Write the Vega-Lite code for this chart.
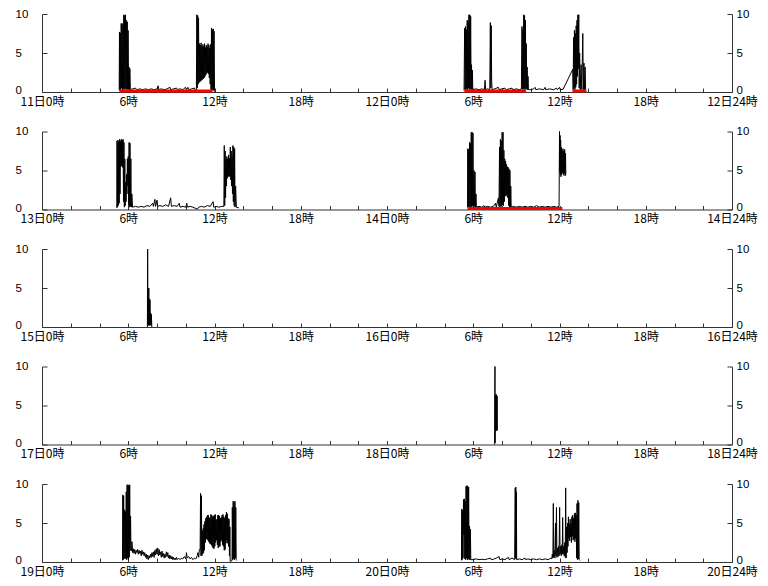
{
"$schema": "https://vega.github.io/schema/vega-lite/v6.json",
"background": "white",
"padding": {"left": 15, "top": 8, "right": 5, "bottom": 5},
"spacing": 39.5,
"bounds": "flush",
"config": {"view": {"stroke": null}, "font": "Noto Sans CJK JP",
  "axis": {"grid": false, "title": null, "domainColor": "#333", "tickColor": "#333", "labelColor": "#000", "labelFont": "Noto Sans CJK JP", "labelFontSize": 12},
  "axisY": {"labelFontSize": 11.5, "labelFont": "Liberation Sans"}},
"datasets": {
"r": [
{"p":1,"t":5.38,"t2":11.87},{"p":1,"t":29.38,"t2":33.67},{"p":1,"t":36.9,"t2":37.8},
{"p":2,"t":29.6,"t2":36.2}
],
"w": [
{"p":1,"s":1,"t":5.37,"v":0.3},{"p":1,"s":1,"t":5.39,"v":7.7},{"p":1,"s":1,"t":5.42,"v":0.2},{"p":1,"s":1,"t":5.45,"v":7.6},{"p":1,"s":1,"t":5.48,"v":0.3},{"p":1,"s":1,"t":5.51,"v":8.8},{"p":1,"s":1,"t":5.54,"v":0.5},{"p":1,"s":1,"t":5.57,"v":8.6},{"p":1,"s":1,"t":5.60,"v":0.2},{"p":1,"s":1,"t":5.63,"v":8.8},{"p":1,"s":1,"t":5.66,"v":0.4},{"p":1,"s":1,"t":5.69,"v":9.9},{"p":1,"s":1,"t":5.72,"v":0.3},{"p":1,"s":1,"t":5.75,"v":9.8},{"p":1,"s":1,"t":5.78,"v":0.5},{"p":1,"s":1,"t":5.81,"v":9.9},{"p":1,"s":1,"t":5.84,"v":0.3},{"p":1,"s":1,"t":5.87,"v":9.2},{"p":1,"s":1,"t":5.90,"v":0.4},{"p":1,"s":1,"t":5.93,"v":9.0},{"p":1,"s":1,"t":5.96,"v":0.3},{"p":1,"s":1,"t":5.99,"v":7.9},{"p":1,"s":1,"t":6.02,"v":0.4},{"p":1,"s":1,"t":6.05,"v":3.2},{"p":1,"s":1,"t":6.08,"v":0.3},{"p":1,"s":1,"t":6.11,"v":3.0},{"p":1,"s":1,"t":6.15,"v":0.3},
{"p":1,"s":1,"t":6.3,"v":0.4},{"p":1,"s":1,"t":6.5,"v":0.5},{"p":1,"s":1,"t":6.6,"v":0.3},{"p":1,"s":1,"t":6.8,"v":0.4},{"p":1,"s":1,"t":7.0,"v":0.3},{"p":1,"s":1,"t":7.2,"v":0.4},{"p":1,"s":1,"t":7.4,"v":0.3},{"p":1,"s":1,"t":7.6,"v":0.4},{"p":1,"s":1,"t":7.8,"v":0.3},{"p":1,"s":1,"t":8.0,"v":0.4},{"p":1,"s":1,"t":8.08,"v":0.8},{"p":1,"s":1,"t":8.12,"v":0.3},{"p":1,"s":1,"t":8.3,"v":0.4},{"p":1,"s":1,"t":8.5,"v":0.3},{"p":1,"s":1,"t":8.7,"v":0.4},{"p":1,"s":1,"t":8.9,"v":0.6},{"p":1,"s":1,"t":8.95,"v":0.3},{"p":1,"s":1,"t":9.15,"v":0.4},{"p":1,"s":1,"t":9.37,"v":0.5},{"p":1,"s":1,"t":9.42,"v":0.3},{"p":1,"s":1,"t":9.6,"v":0.4},{"p":1,"s":1,"t":9.8,"v":0.3},{"p":1,"s":1,"t":9.98,"v":0.6},{"p":1,"s":1,"t":10.05,"v":0.3},{"p":1,"s":1,"t":10.15,"v":0.6},{"p":1,"s":1,"t":10.2,"v":0.3},{"p":1,"s":1,"t":10.4,"v":0.4},{"p":1,"s":1,"t":10.6,"v":0.5},{"p":1,"s":1,"t":10.65,"v":0.3},
{"p":1,"s":1,"t":10.74,"v":0.3},{"p":1,"s":1,"t":10.77,"v":9.9},{"p":1,"s":1,"t":10.80,"v":0.5},{"p":1,"s":1,"t":10.83,"v":9.8},{"p":1,"s":1,"t":10.86,"v":1.0},{"p":1,"s":1,"t":10.89,"v":9.5},{"p":1,"s":1,"t":10.92,"v":1.2},{"p":1,"s":1,"t":10.95,"v":6.2},{"p":1,"s":1,"t":10.98,"v":1.3},{"p":1,"s":1,"t":11.01,"v":6.0},{"p":1,"s":1,"t":11.04,"v":1.4},{"p":1,"s":1,"t":11.07,"v":6.3},{"p":1,"s":1,"t":11.10,"v":1.5},{"p":1,"s":1,"t":11.13,"v":5.8},{"p":1,"s":1,"t":11.16,"v":1.6},{"p":1,"s":1,"t":11.19,"v":6.1},{"p":1,"s":1,"t":11.22,"v":1.7},{"p":1,"s":1,"t":11.25,"v":5.9},{"p":1,"s":1,"t":11.28,"v":1.8},{"p":1,"s":1,"t":11.31,"v":6.2},{"p":1,"s":1,"t":11.34,"v":2.0},{"p":1,"s":1,"t":11.37,"v":5.7},{"p":1,"s":1,"t":11.40,"v":2.2},{"p":1,"s":1,"t":11.43,"v":6.0},{"p":1,"s":1,"t":11.46,"v":2.4},{"p":1,"s":1,"t":11.49,"v":5.8},{"p":1,"s":1,"t":11.52,"v":2.5},{"p":1,"s":1,"t":11.55,"v":6.2},{"p":1,"s":1,"t":11.58,"v":2.3},{"p":1,"s":1,"t":11.61,"v":6.0},{"p":1,"s":1,"t":11.64,"v":1.8},{"p":1,"s":1,"t":11.67,"v":5.6},{"p":1,"s":1,"t":11.70,"v":1.0},{"p":1,"s":1,"t":11.73,"v":6.1},{"p":1,"s":1,"t":11.76,"v":0.3},{"p":1,"s":1,"t":11.79,"v":8.2},{"p":1,"s":1,"t":11.82,"v":0.2},{"p":1,"s":1,"t":11.85,"v":8.0},{"p":1,"s":1,"t":11.88,"v":0.3},{"p":1,"s":1,"t":11.91,"v":8.1},{"p":1,"s":1,"t":11.94,"v":0.2},{"p":1,"s":1,"t":11.97,"v":7.8},{"p":1,"s":1,"t":12.00,"v":0.2},{"p":1,"s":1,"t":12.03,"v":0},
{"p":1,"s":2,"t":29.36,"v":0.2},{"p":1,"s":2,"t":29.40,"v":8.2},{"p":1,"s":2,"t":29.43,"v":0.3},{"p":1,"s":2,"t":29.46,"v":8.4},{"p":1,"s":2,"t":29.49,"v":0.3},{"p":1,"s":2,"t":29.52,"v":8.0},{"p":1,"s":2,"t":29.55,"v":0.4},{"p":1,"s":2,"t":29.58,"v":9.2},{"p":1,"s":2,"t":29.61,"v":0.3},{"p":1,"s":2,"t":29.64,"v":9.1},{"p":1,"s":2,"t":29.67,"v":0.5},{"p":1,"s":2,"t":29.70,"v":9.9},{"p":1,"s":2,"t":29.73,"v":0.3},{"p":1,"s":2,"t":29.76,"v":9.9},{"p":1,"s":2,"t":29.79,"v":0.4},{"p":1,"s":2,"t":29.82,"v":9.7},{"p":1,"s":2,"t":29.85,"v":0.3},{"p":1,"s":2,"t":29.88,"v":3.5},{"p":1,"s":2,"t":29.91,"v":0.3},{"p":1,"s":2,"t":29.94,"v":2.8},{"p":1,"s":2,"t":29.97,"v":0.3},
{"p":1,"s":2,"t":30.2,"v":0.4},{"p":1,"s":2,"t":30.4,"v":0.3},{"p":1,"s":2,"t":30.6,"v":0.4},{"p":1,"s":2,"t":30.78,"v":0.3},{"p":1,"s":2,"t":30.82,"v":1.5},{"p":1,"s":2,"t":30.86,"v":0.3},{"p":1,"s":2,"t":31.0,"v":0.4},{"p":1,"s":2,"t":31.15,"v":0.3},{"p":1,"s":2,"t":31.19,"v":8.9},{"p":1,"s":2,"t":31.22,"v":0.5},{"p":1,"s":2,"t":31.25,"v":8.5},{"p":1,"s":2,"t":31.28,"v":1.5},{"p":1,"s":2,"t":31.31,"v":0.3},{"p":1,"s":2,"t":31.5,"v":0.4},{"p":1,"s":2,"t":31.75,"v":0.6},{"p":1,"s":2,"t":31.8,"v":0.3},{"p":1,"s":2,"t":32.0,"v":0.4},{"p":1,"s":2,"t":32.2,"v":0.5},{"p":1,"s":2,"t":32.3,"v":0.3},{"p":1,"s":2,"t":32.5,"v":0.4},{"p":1,"s":2,"t":32.7,"v":0.5},{"p":1,"s":2,"t":32.75,"v":0.3},{"p":1,"s":2,"t":33.0,"v":0.4},{"p":1,"s":2,"t":33.2,"v":0.3},{"p":1,"s":2,"t":33.35,"v":0.4},
{"p":1,"s":2,"t":33.39,"v":8.4},{"p":1,"s":2,"t":33.42,"v":0.3},{"p":1,"s":2,"t":33.45,"v":8.0},{"p":1,"s":2,"t":33.48,"v":0.4},{"p":1,"s":2,"t":33.51,"v":9.9},{"p":1,"s":2,"t":33.54,"v":0.3},{"p":1,"s":2,"t":33.57,"v":9.8},{"p":1,"s":2,"t":33.60,"v":0.5},{"p":1,"s":2,"t":33.63,"v":9.2},{"p":1,"s":2,"t":33.66,"v":0.3},{"p":1,"s":2,"t":33.69,"v":6.2},{"p":1,"s":2,"t":33.72,"v":0.4},{"p":1,"s":2,"t":33.75,"v":3.2},{"p":1,"s":2,"t":33.78,"v":0.3},{"p":1,"s":2,"t":33.81,"v":2.0},{"p":1,"s":2,"t":33.84,"v":0.3},
{"p":1,"s":2,"t":34.0,"v":0.3},{"p":1,"s":2,"t":34.2,"v":0.4},{"p":1,"s":2,"t":34.3,"v":0.6},{"p":1,"s":2,"t":34.35,"v":0.3},{"p":1,"s":2,"t":34.6,"v":0.4},{"p":1,"s":2,"t":34.9,"v":0.3},{"p":1,"s":2,"t":35.0,"v":0.6},{"p":1,"s":2,"t":35.05,"v":0.3},{"p":1,"s":2,"t":35.3,"v":0.4},{"p":1,"s":2,"t":35.6,"v":0.3},{"p":1,"s":2,"t":35.8,"v":0.5},{"p":1,"s":2,"t":35.85,"v":0.3},{"p":1,"s":2,"t":36.0,"v":0.6},{"p":1,"s":2,"t":36.05,"v":0.3},{"p":1,"s":2,"t":36.25,"v":0.35},
{"p":1,"s":2,"t":36.92,"v":2.9},{"p":1,"s":2,"t":36.95,"v":0.3},{"p":1,"s":2,"t":36.98,"v":7.0},{"p":1,"s":2,"t":37.01,"v":0.5},{"p":1,"s":2,"t":37.04,"v":7.9},{"p":1,"s":2,"t":37.07,"v":0.3},{"p":1,"s":2,"t":37.10,"v":7.5},{"p":1,"s":2,"t":37.13,"v":0.6},{"p":1,"s":2,"t":37.16,"v":8.5},{"p":1,"s":2,"t":37.19,"v":1.0},{"p":1,"s":2,"t":37.22,"v":9.2},{"p":1,"s":2,"t":37.25,"v":2.0},{"p":1,"s":2,"t":37.28,"v":9.9},{"p":1,"s":2,"t":37.31,"v":3.0},{"p":1,"s":2,"t":37.34,"v":9.9},{"p":1,"s":2,"t":37.37,"v":0.5},{"p":1,"s":2,"t":37.40,"v":5.0},{"p":1,"s":2,"t":37.44,"v":0.3},{"p":1,"s":2,"t":37.50,"v":3.5},{"p":1,"s":2,"t":37.55,"v":0.3},{"p":1,"s":2,"t":37.62,"v":7.5},{"p":1,"s":2,"t":37.66,"v":0.3},{"p":1,"s":2,"t":37.70,"v":3.7},{"p":1,"s":2,"t":37.74,"v":0.3},{"p":1,"s":2,"t":37.78,"v":3.2},{"p":1,"s":2,"t":37.82,"v":0.3},{"p":1,"s":2,"t":37.85,"v":0},

{"p":2,"s":1,"t":5.20,"v":0.2},{"p":2,"s":1,"t":5.22,"v":8.8},{"p":2,"s":1,"t":5.25,"v":0.3},{"p":2,"s":1,"t":5.28,"v":8.9},{"p":2,"s":1,"t":5.31,"v":0.5},{"p":2,"s":1,"t":5.34,"v":8.7},{"p":2,"s":1,"t":5.37,"v":0.8},{"p":2,"s":1,"t":5.40,"v":9.0},{"p":2,"s":1,"t":5.43,"v":2.0},{"p":2,"s":1,"t":5.46,"v":8.8},{"p":2,"s":1,"t":5.49,"v":5.5},{"p":2,"s":1,"t":5.52,"v":9.0},{"p":2,"s":1,"t":5.55,"v":5.6},{"p":2,"s":1,"t":5.58,"v":8.9},{"p":2,"s":1,"t":5.61,"v":5.4},{"p":2,"s":1,"t":5.64,"v":9.0},{"p":2,"s":1,"t":5.67,"v":1.0},{"p":2,"s":1,"t":5.70,"v":8.6},{"p":2,"s":1,"t":5.73,"v":0.3},{"p":2,"s":1,"t":5.76,"v":6.5},{"p":2,"s":1,"t":5.79,"v":0.5},{"p":2,"s":1,"t":5.82,"v":3.5},{"p":2,"s":1,"t":5.85,"v":1.0},{"p":2,"s":1,"t":5.88,"v":4.5},{"p":2,"s":1,"t":5.91,"v":2.0},{"p":2,"s":1,"t":5.94,"v":6.5},{"p":2,"s":1,"t":5.97,"v":3.0},{"p":2,"s":1,"t":6.00,"v":6.8},{"p":2,"s":1,"t":6.03,"v":0.5},{"p":2,"s":1,"t":6.06,"v":8.6},{"p":2,"s":1,"t":6.09,"v":0.3},{"p":2,"s":1,"t":6.12,"v":8.5},{"p":2,"s":1,"t":6.15,"v":0.4},{"p":2,"s":1,"t":6.18,"v":6.5},{"p":2,"s":1,"t":6.21,"v":0.3},{"p":2,"s":1,"t":6.25,"v":2.0},{"p":2,"s":1,"t":6.30,"v":0.3},
{"p":2,"s":1,"t":6.5,"v":0.4},{"p":2,"s":1,"t":6.7,"v":0.3},{"p":2,"s":1,"t":6.9,"v":0.4},{"p":2,"s":1,"t":7.1,"v":0.3},{"p":2,"s":1,"t":7.3,"v":0.5},{"p":2,"s":1,"t":7.5,"v":0.4},{"p":2,"s":1,"t":7.7,"v":0.8},{"p":2,"s":1,"t":7.75,"v":0.4},{"p":2,"s":1,"t":7.85,"v":1.3},{"p":2,"s":1,"t":7.9,"v":0.4},{"p":2,"s":1,"t":8.0,"v":1.2},{"p":2,"s":1,"t":8.05,"v":0.4},{"p":2,"s":1,"t":8.2,"v":0.5},{"p":2,"s":1,"t":8.4,"v":0.4},{"p":2,"s":1,"t":8.6,"v":0.6},{"p":2,"s":1,"t":8.8,"v":0.4},{"p":2,"s":1,"t":8.95,"v":1.5},{"p":2,"s":1,"t":9.0,"v":0.4},{"p":2,"s":1,"t":9.2,"v":0.5},{"p":2,"s":1,"t":9.4,"v":0.4},{"p":2,"s":1,"t":9.55,"v":0.8},{"p":2,"s":1,"t":9.6,"v":0.3},{"p":2,"s":1,"t":9.8,"v":0.4},{"p":2,"s":1,"t":10.0,"v":0.3},{"p":2,"s":1,"t":10.07,"v":0.8},{"p":2,"s":1,"t":10.12,"v":0.3},{"p":2,"s":1,"t":10.3,"v":0.4},{"p":2,"s":1,"t":10.5,"v":0.3},{"p":2,"s":1,"t":10.8,"v":0.05},{"p":2,"s":1,"t":10.9,"v":0.3},{"p":2,"s":1,"t":11.1,"v":0.4},{"p":2,"s":1,"t":11.3,"v":0.3},{"p":2,"s":1,"t":11.5,"v":0.5},{"p":2,"s":1,"t":11.7,"v":0.4},{"p":2,"s":1,"t":11.9,"v":1.0},{"p":2,"s":1,"t":11.95,"v":0.3},{"p":2,"s":1,"t":12.1,"v":0.4},{"p":2,"s":1,"t":12.3,"v":0.3},{"p":2,"s":1,"t":12.5,"v":0.4},{"p":2,"s":1,"t":12.65,"v":0.4},
{"p":2,"s":1,"t":12.68,"v":8.2},{"p":2,"s":1,"t":12.71,"v":0.5},{"p":2,"s":1,"t":12.74,"v":7.5},{"p":2,"s":1,"t":12.77,"v":1.5},{"p":2,"s":1,"t":12.80,"v":6.5},{"p":2,"s":1,"t":12.83,"v":3.0},{"p":2,"s":1,"t":12.86,"v":6.8},{"p":2,"s":1,"t":12.89,"v":4.0},{"p":2,"s":1,"t":12.92,"v":6.5},{"p":2,"s":1,"t":12.95,"v":4.2},{"p":2,"s":1,"t":12.98,"v":7.0},{"p":2,"s":1,"t":13.01,"v":4.3},{"p":2,"s":1,"t":13.04,"v":6.6},{"p":2,"s":1,"t":13.07,"v":4.2},{"p":2,"s":1,"t":13.10,"v":8.0},{"p":2,"s":1,"t":13.13,"v":3.8},{"p":2,"s":1,"t":13.16,"v":7.5},{"p":2,"s":1,"t":13.19,"v":3.0},{"p":2,"s":1,"t":13.22,"v":6.8},{"p":2,"s":1,"t":13.25,"v":2.0},{"p":2,"s":1,"t":13.28,"v":8.2},{"p":2,"s":1,"t":13.31,"v":1.0},{"p":2,"s":1,"t":13.34,"v":8.0},{"p":2,"s":1,"t":13.37,"v":0.5},{"p":2,"s":1,"t":13.40,"v":7.8},{"p":2,"s":1,"t":13.43,"v":0.3},{"p":2,"s":1,"t":13.47,"v":3.0},{"p":2,"s":1,"t":13.52,"v":0.3},{"p":2,"s":1,"t":13.7,"v":0.2},
{"p":2,"s":2,"t":29.60,"v":0.3},{"p":2,"s":2,"t":29.62,"v":7.8},{"p":2,"s":2,"t":29.65,"v":0.3},{"p":2,"s":2,"t":29.68,"v":7.7},{"p":2,"s":2,"t":29.71,"v":0.4},{"p":2,"s":2,"t":29.74,"v":8.6},{"p":2,"s":2,"t":29.77,"v":0.3},{"p":2,"s":2,"t":29.80,"v":8.5},{"p":2,"s":2,"t":29.83,"v":0.4},{"p":2,"s":2,"t":29.86,"v":9.9},{"p":2,"s":2,"t":29.89,"v":0.3},{"p":2,"s":2,"t":29.92,"v":9.9},{"p":2,"s":2,"t":29.95,"v":0.5},{"p":2,"s":2,"t":29.98,"v":9.8},{"p":2,"s":2,"t":30.01,"v":0.3},{"p":2,"s":2,"t":30.05,"v":5.0},{"p":2,"s":2,"t":30.08,"v":0.4},{"p":2,"s":2,"t":30.12,"v":4.8},{"p":2,"s":2,"t":30.15,"v":0.3},{"p":2,"s":2,"t":30.19,"v":2.0},{"p":2,"s":2,"t":30.22,"v":0.3},
{"p":2,"s":2,"t":30.4,"v":0.4},{"p":2,"s":2,"t":30.6,"v":0.3},{"p":2,"s":2,"t":30.75,"v":0.5},{"p":2,"s":2,"t":30.8,"v":0.3},{"p":2,"s":2,"t":31.0,"v":0.4},{"p":2,"s":2,"t":31.2,"v":0.3},{"p":2,"s":2,"t":31.4,"v":0.4},{"p":2,"s":2,"t":31.55,"v":0.8},{"p":2,"s":2,"t":31.6,"v":0.3},{"p":2,"s":2,"t":31.75,"v":1.5},{"p":2,"s":2,"t":31.79,"v":0.4},
{"p":2,"s":2,"t":31.83,"v":8.0},{"p":2,"s":2,"t":31.86,"v":0.3},{"p":2,"s":2,"t":31.89,"v":9.0},{"p":2,"s":2,"t":31.92,"v":0.5},{"p":2,"s":2,"t":31.95,"v":8.8},{"p":2,"s":2,"t":31.98,"v":0.4},{"p":2,"s":2,"t":32.01,"v":9.9},{"p":2,"s":2,"t":32.04,"v":0.6},{"p":2,"s":2,"t":32.07,"v":9.9},{"p":2,"s":2,"t":32.10,"v":0.5},{"p":2,"s":2,"t":32.13,"v":7.6},{"p":2,"s":2,"t":32.16,"v":1.0},{"p":2,"s":2,"t":32.19,"v":6.5},{"p":2,"s":2,"t":32.22,"v":1.8},{"p":2,"s":2,"t":32.25,"v":6.2},{"p":2,"s":2,"t":32.28,"v":1.7},{"p":2,"s":2,"t":32.31,"v":5.8},{"p":2,"s":2,"t":32.34,"v":1.9},{"p":2,"s":2,"t":32.37,"v":5.5},{"p":2,"s":2,"t":32.40,"v":1.5},{"p":2,"s":2,"t":32.43,"v":5.4},{"p":2,"s":2,"t":32.46,"v":0.5},{"p":2,"s":2,"t":32.49,"v":5.2},{"p":2,"s":2,"t":32.52,"v":0.3},{"p":2,"s":2,"t":32.55,"v":5.0},{"p":2,"s":2,"t":32.58,"v":0.3},{"p":2,"s":2,"t":32.61,"v":3.0},{"p":2,"s":2,"t":32.64,"v":0.3},
{"p":2,"s":2,"t":32.8,"v":0.4},{"p":2,"s":2,"t":33.0,"v":0.3},{"p":2,"s":2,"t":33.2,"v":0.4},{"p":2,"s":2,"t":33.4,"v":0.3},{"p":2,"s":2,"t":33.6,"v":0.4},{"p":2,"s":2,"t":33.8,"v":0.3},{"p":2,"s":2,"t":34.0,"v":0.4},{"p":2,"s":2,"t":34.2,"v":0.3},{"p":2,"s":2,"t":34.4,"v":0.5},{"p":2,"s":2,"t":34.6,"v":0.3},{"p":2,"s":2,"t":34.8,"v":0.4},{"p":2,"s":2,"t":35.0,"v":0.3},{"p":2,"s":2,"t":35.2,"v":0.4},{"p":2,"s":2,"t":35.4,"v":0.3},{"p":2,"s":2,"t":35.6,"v":0.4},{"p":2,"s":2,"t":35.8,"v":0.3},{"p":2,"s":2,"t":35.97,"v":0.4},
{"p":2,"s":2,"t":36.00,"v":10.0},{"p":2,"s":2,"t":36.02,"v":4.8},{"p":2,"s":2,"t":36.04,"v":9.5},{"p":2,"s":2,"t":36.06,"v":4.5},{"p":2,"s":2,"t":36.08,"v":8.9},{"p":2,"s":2,"t":36.10,"v":4.2},{"p":2,"s":2,"t":36.12,"v":8.0},{"p":2,"s":2,"t":36.15,"v":4.5},{"p":2,"s":2,"t":36.18,"v":7.6},{"p":2,"s":2,"t":36.21,"v":4.7},{"p":2,"s":2,"t":36.24,"v":7.8},{"p":2,"s":2,"t":36.27,"v":4.4},{"p":2,"s":2,"t":36.30,"v":7.5},{"p":2,"s":2,"t":36.33,"v":4.6},{"p":2,"s":2,"t":36.36,"v":7.7},{"p":2,"s":2,"t":36.39,"v":4.3},{"p":2,"s":2,"t":36.42,"v":7.2},{"p":2,"s":2,"t":36.44,"v":4.5},

{"p":3,"s":1,"t":7.33,"v":0},{"p":3,"s":1,"t":7.35,"v":10},{"p":3,"s":1,"t":7.37,"v":0.3},{"p":3,"s":1,"t":7.39,"v":3.7},{"p":3,"s":1,"t":7.41,"v":0.2},{"p":3,"s":1,"t":7.43,"v":5.0},{"p":3,"s":1,"t":7.45,"v":0.3},{"p":3,"s":1,"t":7.47,"v":3.6},{"p":3,"s":1,"t":7.49,"v":0.2},{"p":3,"s":1,"t":7.51,"v":3.5},{"p":3,"s":1,"t":7.53,"v":0.3},{"p":3,"s":1,"t":7.56,"v":1.8},{"p":3,"s":1,"t":7.58,"v":0.2},{"p":3,"s":1,"t":7.61,"v":1.6},{"p":3,"s":1,"t":7.64,"v":0},

{"p":4,"s":1,"t":31.49,"v":0},{"p":4,"s":1,"t":31.51,"v":10},{"p":4,"s":1,"t":31.52,"v":0.2},{"p":4,"s":1,"t":31.54,"v":6.4},{"p":4,"s":1,"t":31.56,"v":1.8},{"p":4,"s":1,"t":31.58,"v":6.3},{"p":4,"s":1,"t":31.60,"v":1.8},{"p":4,"s":1,"t":31.62,"v":6.4},{"p":4,"s":1,"t":31.64,"v":1.8},{"p":4,"s":1,"t":31.66,"v":6.2},{"p":4,"s":1,"t":31.67,"v":1.8},

{"p":5,"s":1,"t":5.60,"v":0.2},{"p":5,"s":1,"t":5.62,"v":8.6},{"p":5,"s":1,"t":5.65,"v":0.3},{"p":5,"s":1,"t":5.68,"v":8.5},{"p":5,"s":1,"t":5.71,"v":0.5},{"p":5,"s":1,"t":5.74,"v":6.7},{"p":5,"s":1,"t":5.77,"v":0.4},{"p":5,"s":1,"t":5.80,"v":6.5},{"p":5,"s":1,"t":5.83,"v":0.5},{"p":5,"s":1,"t":5.86,"v":9.0},{"p":5,"s":1,"t":5.89,"v":0.3},{"p":5,"s":1,"t":5.92,"v":9.9},{"p":5,"s":1,"t":5.95,"v":0.5},{"p":5,"s":1,"t":5.98,"v":9.9},{"p":5,"s":1,"t":6.01,"v":0.3},{"p":5,"s":1,"t":6.04,"v":9.8},{"p":5,"s":1,"t":6.07,"v":0.6},{"p":5,"s":1,"t":6.10,"v":9.9},{"p":5,"s":1,"t":6.13,"v":1.5},{"p":5,"s":1,"t":6.16,"v":5.9},{"p":5,"s":1,"t":6.19,"v":1.5},
{"p":5,"s":1,"t":6.22,"v":1.4},{"p":5,"s":1,"t":6.26,"v":2.6},{"p":5,"s":1,"t":6.30,"v":1.2},{"p":5,"s":1,"t":6.35,"v":1.7},{"p":5,"s":1,"t":6.40,"v":1.1},{"p":5,"s":1,"t":6.45,"v":1.6},{"p":5,"s":1,"t":6.50,"v":1.0},{"p":5,"s":1,"t":6.55,"v":1.5},{"p":5,"s":1,"t":6.60,"v":1.2},{"p":5,"s":1,"t":6.65,"v":1.6},{"p":5,"s":1,"t":6.70,"v":1.0},{"p":5,"s":1,"t":6.75,"v":1.5},{"p":5,"s":1,"t":6.80,"v":1.1},{"p":5,"s":1,"t":6.85,"v":1.4},{"p":5,"s":1,"t":6.90,"v":0.8},{"p":5,"s":1,"t":6.95,"v":1.5},{"p":5,"s":1,"t":7.00,"v":1.0},{"p":5,"s":1,"t":7.05,"v":1.3},{"p":5,"s":1,"t":7.10,"v":0.8},{"p":5,"s":1,"t":7.15,"v":1.2},{"p":5,"s":1,"t":7.20,"v":0.6},{"p":5,"s":1,"t":7.25,"v":1.0},{"p":5,"s":1,"t":7.30,"v":0.4},{"p":5,"s":1,"t":7.35,"v":0.9},{"p":5,"s":1,"t":7.40,"v":0.3},{"p":5,"s":1,"t":7.45,"v":0.8},{"p":5,"s":1,"t":7.50,"v":0.5},{"p":5,"s":1,"t":7.55,"v":1.0},{"p":5,"s":1,"t":7.60,"v":0.6},{"p":5,"s":1,"t":7.65,"v":1.2},{"p":5,"s":1,"t":7.70,"v":0.7},{"p":5,"s":1,"t":7.75,"v":1.3},{"p":5,"s":1,"t":7.80,"v":0.6},{"p":5,"s":1,"t":7.85,"v":1.5},{"p":5,"s":1,"t":7.90,"v":0.9},{"p":5,"s":1,"t":7.95,"v":1.7},{"p":5,"s":1,"t":8.00,"v":1.0},{"p":5,"s":1,"t":8.05,"v":1.8},{"p":5,"s":1,"t":8.10,"v":0.8},{"p":5,"s":1,"t":8.15,"v":1.6},{"p":5,"s":1,"t":8.20,"v":0.9},{"p":5,"s":1,"t":8.25,"v":1.3},{"p":5,"s":1,"t":8.30,"v":0.6},{"p":5,"s":1,"t":8.35,"v":1.4},{"p":5,"s":1,"t":8.40,"v":0.7},{"p":5,"s":1,"t":8.45,"v":1.1},{"p":5,"s":1,"t":8.50,"v":0.5},{"p":5,"s":1,"t":8.55,"v":1.0},{"p":5,"s":1,"t":8.60,"v":0.6},{"p":5,"s":1,"t":8.65,"v":1.3},{"p":5,"s":1,"t":8.70,"v":0.7},{"p":5,"s":1,"t":8.75,"v":1.2},{"p":5,"s":1,"t":8.80,"v":0.5},{"p":5,"s":1,"t":8.85,"v":0.9},{"p":5,"s":1,"t":8.90,"v":0.4},{"p":5,"s":1,"t":8.95,"v":0.8},{"p":5,"s":1,"t":9.00,"v":0.4},{"p":5,"s":1,"t":9.05,"v":0.7},{"p":5,"s":1,"t":9.10,"v":0.3},{"p":5,"s":1,"t":9.15,"v":0.6},{"p":5,"s":1,"t":9.20,"v":0.3},{"p":5,"s":1,"t":9.25,"v":0.5},{"p":5,"s":1,"t":9.30,"v":0.3},{"p":5,"s":1,"t":9.35,"v":0.6},{"p":5,"s":1,"t":9.40,"v":0.3},{"p":5,"s":1,"t":9.50,"v":0.5},{"p":5,"s":1,"t":9.60,"v":0.3},{"p":5,"s":1,"t":9.70,"v":0.5},{"p":5,"s":1,"t":9.80,"v":0.4},{"p":5,"s":1,"t":9.90,"v":0.7},{"p":5,"s":1,"t":10.0,"v":0.4},{"p":5,"s":1,"t":10.05,"v":1.2},{"p":5,"s":1,"t":10.10,"v":0.5},{"p":5,"s":1,"t":10.20,"v":0.7},{"p":5,"s":1,"t":10.30,"v":0.4},{"p":5,"s":1,"t":10.40,"v":0.6},{"p":5,"s":1,"t":10.50,"v":0.3},{"p":5,"s":1,"t":10.60,"v":0.5},{"p":5,"s":1,"t":10.70,"v":0.4},{"p":5,"s":1,"t":10.80,"v":0.8},{"p":5,"s":1,"t":10.85,"v":1.2},{"p":5,"s":1,"t":10.90,"v":0.6},{"p":5,"s":1,"t":10.95,"v":1.6},
{"p":5,"s":1,"t":11.00,"v":1.6},{"p":5,"s":1,"t":11.03,"v":8.8},{"p":5,"s":1,"t":11.06,"v":0.8},{"p":5,"s":1,"t":11.09,"v":8.5},{"p":5,"s":1,"t":11.12,"v":0.8},{"p":5,"s":1,"t":11.15,"v":4.0},{"p":5,"s":1,"t":11.18,"v":1.0},{"p":5,"s":1,"t":11.21,"v":4.3},{"p":5,"s":1,"t":11.24,"v":1.2},{"p":5,"s":1,"t":11.27,"v":4.8},{"p":5,"s":1,"t":11.30,"v":1.5},{"p":5,"s":1,"t":11.33,"v":5.2},{"p":5,"s":1,"t":11.36,"v":2.5},{"p":5,"s":1,"t":11.39,"v":5.6},{"p":5,"s":1,"t":11.42,"v":3.0},{"p":5,"s":1,"t":11.45,"v":5.8},{"p":5,"s":1,"t":11.48,"v":2.9},{"p":5,"s":1,"t":11.51,"v":6.0},{"p":5,"s":1,"t":11.54,"v":2.8},{"p":5,"s":1,"t":11.57,"v":6.0},{"p":5,"s":1,"t":11.60,"v":2.6},{"p":5,"s":1,"t":11.63,"v":5.7},{"p":5,"s":1,"t":11.66,"v":2.4},{"p":5,"s":1,"t":11.69,"v":5.6},{"p":5,"s":1,"t":11.72,"v":2.3},{"p":5,"s":1,"t":11.75,"v":6.1},{"p":5,"s":1,"t":11.78,"v":2.2},{"p":5,"s":1,"t":11.81,"v":6.0},{"p":5,"s":1,"t":11.84,"v":2.0},{"p":5,"s":1,"t":11.87,"v":5.8},{"p":5,"s":1,"t":11.90,"v":1.8},{"p":5,"s":1,"t":11.93,"v":5.9},{"p":5,"s":1,"t":11.96,"v":1.7},{"p":5,"s":1,"t":11.99,"v":6.0},{"p":5,"s":1,"t":12.02,"v":2.0},{"p":5,"s":1,"t":12.05,"v":6.1},{"p":5,"s":1,"t":12.08,"v":2.5},{"p":5,"s":1,"t":12.11,"v":5.4},{"p":5,"s":1,"t":12.14,"v":2.8},{"p":5,"s":1,"t":12.17,"v":5.5},{"p":5,"s":1,"t":12.20,"v":2.2},{"p":5,"s":1,"t":12.23,"v":6.0},{"p":5,"s":1,"t":12.26,"v":1.8},{"p":5,"s":1,"t":12.29,"v":6.0},{"p":5,"s":1,"t":12.32,"v":2.0},{"p":5,"s":1,"t":12.35,"v":5.9},{"p":5,"s":1,"t":12.38,"v":2.0},{"p":5,"s":1,"t":12.41,"v":5.6},{"p":5,"s":1,"t":12.44,"v":2.6},{"p":5,"s":1,"t":12.47,"v":5.7},{"p":5,"s":1,"t":12.50,"v":2.8},{"p":5,"s":1,"t":12.53,"v":6.0},{"p":5,"s":1,"t":12.56,"v":2.2},{"p":5,"s":1,"t":12.59,"v":6.1},{"p":5,"s":1,"t":12.62,"v":2.0},{"p":5,"s":1,"t":12.65,"v":5.8},{"p":5,"s":1,"t":12.68,"v":1.5},{"p":5,"s":1,"t":12.71,"v":5.6},{"p":5,"s":1,"t":12.74,"v":1.6},{"p":5,"s":1,"t":12.77,"v":6.0},{"p":5,"s":1,"t":12.80,"v":2.4},{"p":5,"s":1,"t":12.83,"v":6.4},{"p":5,"s":1,"t":12.86,"v":2.8},{"p":5,"s":1,"t":12.89,"v":6.2},{"p":5,"s":1,"t":12.92,"v":2.4},{"p":5,"s":1,"t":12.95,"v":5.6},{"p":5,"s":1,"t":12.98,"v":2.0},{"p":5,"s":1,"t":13.01,"v":5.5},{"p":5,"s":1,"t":13.04,"v":0.8},{"p":5,"s":1,"t":13.07,"v":4.5},{"p":5,"s":1,"t":13.09,"v":0.1},
{"p":5,"s":1,"t":13.15,"v":0.1},{"p":5,"s":1,"t":13.22,"v":0.2},{"p":5,"s":1,"t":13.24,"v":7.0},{"p":5,"s":1,"t":13.27,"v":0.3},{"p":5,"s":1,"t":13.30,"v":7.8},{"p":5,"s":1,"t":13.33,"v":0.4},{"p":5,"s":1,"t":13.36,"v":7.6},{"p":5,"s":1,"t":13.39,"v":0.3},{"p":5,"s":1,"t":13.42,"v":7.8},{"p":5,"s":1,"t":13.45,"v":0.5},{"p":5,"s":1,"t":13.48,"v":7.0},{"p":5,"s":1,"t":13.51,"v":0.3},{"p":5,"s":1,"t":13.55,"v":0.2},
{"p":5,"s":2,"t":29.18,"v":0.2},{"p":5,"s":2,"t":29.20,"v":6.8},{"p":5,"s":2,"t":29.23,"v":0.3},{"p":5,"s":2,"t":29.26,"v":6.6},{"p":5,"s":2,"t":29.29,"v":0.5},{"p":5,"s":2,"t":29.32,"v":8.0},{"p":5,"s":2,"t":29.35,"v":3.5},{"p":5,"s":2,"t":29.38,"v":8.1},{"p":5,"s":2,"t":29.41,"v":0.4},{"p":5,"s":2,"t":29.44,"v":7.8},{"p":5,"s":2,"t":29.47,"v":0.3},{"p":5,"s":2,"t":29.50,"v":9.7},{"p":5,"s":2,"t":29.53,"v":0.5},{"p":5,"s":2,"t":29.56,"v":9.8},{"p":5,"s":2,"t":29.59,"v":0.3},{"p":5,"s":2,"t":29.62,"v":9.7},{"p":5,"s":2,"t":29.65,"v":0.4},{"p":5,"s":2,"t":29.68,"v":9.6},{"p":5,"s":2,"t":29.71,"v":0.3},{"p":5,"s":2,"t":29.74,"v":4.6},{"p":5,"s":2,"t":29.77,"v":0.3},{"p":5,"s":2,"t":29.80,"v":4.2},{"p":5,"s":2,"t":29.83,"v":0.3},
{"p":5,"s":2,"t":30.0,"v":0.3},{"p":5,"s":2,"t":30.2,"v":0.4},{"p":5,"s":2,"t":30.4,"v":0.3},{"p":5,"s":2,"t":30.6,"v":0.35},{"p":5,"s":2,"t":30.8,"v":0.3},{"p":5,"s":2,"t":31.0,"v":0.4},{"p":5,"s":2,"t":31.2,"v":0.5},{"p":5,"s":2,"t":31.25,"v":0.3},{"p":5,"s":2,"t":31.4,"v":0.35},{"p":5,"s":2,"t":31.6,"v":0.5},{"p":5,"s":2,"t":31.8,"v":0.7},{"p":5,"s":2,"t":31.85,"v":0.3},{"p":5,"s":2,"t":32.0,"v":0.4},{"p":5,"s":2,"t":32.2,"v":0.3},{"p":5,"s":2,"t":32.45,"v":0.6},{"p":5,"s":2,"t":32.5,"v":0.3},{"p":5,"s":2,"t":32.7,"v":0.5},{"p":5,"s":2,"t":32.88,"v":0.3},
{"p":5,"s":2,"t":32.92,"v":9.5},{"p":5,"s":2,"t":32.94,"v":0.5},{"p":5,"s":2,"t":32.96,"v":9.6},{"p":5,"s":2,"t":32.98,"v":0.4},{"p":5,"s":2,"t":33.00,"v":9.0},{"p":5,"s":2,"t":33.02,"v":0.3},
{"p":5,"s":2,"t":33.2,"v":0.4},{"p":5,"s":2,"t":33.4,"v":0.3},{"p":5,"s":2,"t":33.6,"v":0.5},{"p":5,"s":2,"t":33.65,"v":0.3},{"p":5,"s":2,"t":33.8,"v":0.4},{"p":5,"s":2,"t":34.0,"v":0.3},{"p":5,"s":2,"t":34.2,"v":0.4},{"p":5,"s":2,"t":34.4,"v":0.3},{"p":5,"s":2,"t":34.6,"v":0.4},{"p":5,"s":2,"t":34.8,"v":0.3},{"p":5,"s":2,"t":35.0,"v":0.4},{"p":5,"s":2,"t":35.2,"v":0.3},{"p":5,"s":2,"t":35.4,"v":0.5},
{"p":5,"s":2,"t":35.46,"v":0.4},{"p":5,"s":2,"t":35.50,"v":1.0},{"p":5,"s":2,"t":35.54,"v":0.5},{"p":5,"s":2,"t":35.57,"v":7.5},{"p":5,"s":2,"t":35.60,"v":0.6},{"p":5,"s":2,"t":35.64,"v":1.5},{"p":5,"s":2,"t":35.68,"v":0.5},{"p":5,"s":2,"t":35.72,"v":5.0},{"p":5,"s":2,"t":35.75,"v":0.8},{"p":5,"s":2,"t":35.79,"v":7.0},{"p":5,"s":2,"t":35.82,"v":0.6},{"p":5,"s":2,"t":35.86,"v":1.8},{"p":5,"s":2,"t":35.90,"v":0.7},{"p":5,"s":2,"t":35.94,"v":2.0},{"p":5,"s":2,"t":35.97,"v":0.8},{"p":5,"s":2,"t":36.01,"v":7.0},{"p":5,"s":2,"t":36.04,"v":1.0},{"p":5,"s":2,"t":36.08,"v":2.0},{"p":5,"s":2,"t":36.12,"v":0.8},{"p":5,"s":2,"t":36.16,"v":2.2},{"p":5,"s":2,"t":36.19,"v":1.0},{"p":5,"s":2,"t":36.22,"v":5.7},{"p":5,"s":2,"t":36.25,"v":1.0},{"p":5,"s":2,"t":36.29,"v":2.0},{"p":5,"s":2,"t":36.33,"v":0.8},{"p":5,"s":2,"t":36.37,"v":2.5},{"p":5,"s":2,"t":36.40,"v":0.6},{"p":5,"s":2,"t":36.43,"v":9.5},{"p":5,"s":2,"t":36.46,"v":0.5},{"p":5,"s":2,"t":36.50,"v":4.5},{"p":5,"s":2,"t":36.53,"v":1.2},{"p":5,"s":2,"t":36.56,"v":5.0},{"p":5,"s":2,"t":36.59,"v":2.0},{"p":5,"s":2,"t":36.62,"v":5.8},{"p":5,"s":2,"t":36.65,"v":3.0},{"p":5,"s":2,"t":36.68,"v":4.9},{"p":5,"s":2,"t":36.71,"v":2.7},{"p":5,"s":2,"t":36.74,"v":5.5},{"p":5,"s":2,"t":36.77,"v":3.2},{"p":5,"s":2,"t":36.80,"v":5.0},{"p":5,"s":2,"t":36.83,"v":2.5},{"p":5,"s":2,"t":36.86,"v":5.8},{"p":5,"s":2,"t":36.89,"v":3.3},{"p":5,"s":2,"t":36.92,"v":6.0},{"p":5,"s":2,"t":36.95,"v":2.8},{"p":5,"s":2,"t":36.98,"v":5.6},{"p":5,"s":2,"t":37.01,"v":3.0},{"p":5,"s":2,"t":37.04,"v":6.2},{"p":5,"s":2,"t":37.07,"v":2.6},{"p":5,"s":2,"t":37.10,"v":6.3},{"p":5,"s":2,"t":37.13,"v":3.0},{"p":5,"s":2,"t":37.16,"v":6.0},{"p":5,"s":2,"t":37.19,"v":0.5},{"p":5,"s":2,"t":37.22,"v":7.5},{"p":5,"s":2,"t":37.25,"v":0.3},{"p":5,"s":2,"t":37.28,"v":7.9},{"p":5,"s":2,"t":37.31,"v":0.4},{"p":5,"s":2,"t":37.34,"v":7.6},{"p":5,"s":2,"t":37.37,"v":0.3},{"p":5,"s":2,"t":37.41,"v":0.2}
]
},
"vconcat": [
{"width": 690, "height": 78,
 "encoding": {"x": {"field": "t", "type": "quantitative", "scale": {"domain": [0,48], "nice": false, "zero": false},
   "axis": {"orient": "bottom", "values": [0,2,4,6,8,10,12,14,16,18,20,22,24,26,28,30,32,34,36,38,40,42,44,46,48], "tickSize": -4, "labelPadding": 8, "labelFlush": false, "labelOverlap": false,
     "labelExpr": "datum.value==0?'11日0時':datum.value==24?'12日0時':datum.value==48?'12日24時':datum.value%6==0?(datum.value%24)+'時':''"}}},
 "layer": [
  {"data": {"name": "w"}, "transform": [{"filter": "datum.p==1"}],
   "mark": {"type": "line", "color": "#000", "strokeWidth": 1},
   "encoding": {
    "y": {"field": "v", "type": "quantitative", "scale": {"domain": [0,10], "nice": false},
      "axis": {"orient": "left", "values": [0,5,10], "tickSize": -5, "labelPadding": 32, "labelAlign": "left", "labelBaseline": "middle", "labelOffset": {"condition": {"test": "datum.value==0", "value": -1.5}, "value": 0}}},
    "detail": {"field": "s"}}},
  {"data": {"name": "r"}, "transform": [{"filter": "datum.p==1"}],
   "mark": {"type": "rule", "color": "#ff0000", "strokeWidth": 3, "yOffset": -1},
   "encoding": {
    "x2": {"field": "t2"},
    "y": {"datum": 0, "type": "quantitative", "scale": {"domain": [0,10], "nice": false},
      "axis": {"orient": "right", "values": [0,5,10], "tickSize": -5, "labelPadding": 9, "labelOffset": {"condition": {"test": "datum.value==0", "value": -2}, "value": 0}}}}}
 ],
 "resolve": {"axis": {"y": "independent"}}},
{"width": 690, "height": 78,
 "encoding": {"x": {"field": "t", "type": "quantitative", "scale": {"domain": [0,48], "nice": false, "zero": false},
   "axis": {"orient": "bottom", "values": [0,2,4,6,8,10,12,14,16,18,20,22,24,26,28,30,32,34,36,38,40,42,44,46,48], "tickSize": -4, "labelPadding": 8, "labelFlush": false, "labelOverlap": false,
     "labelExpr": "datum.value==0?'13日0時':datum.value==24?'14日0時':datum.value==48?'14日24時':datum.value%6==0?(datum.value%24)+'時':''"}}},
 "layer": [
  {"data": {"name": "w"}, "transform": [{"filter": "datum.p==2"}],
   "mark": {"type": "line", "color": "#000", "strokeWidth": 1},
   "encoding": {
    "y": {"field": "v", "type": "quantitative", "scale": {"domain": [0,10], "nice": false},
      "axis": {"orient": "left", "values": [0,5,10], "tickSize": -5, "labelPadding": 32, "labelAlign": "left", "labelBaseline": "middle", "labelOffset": {"condition": {"test": "datum.value==0", "value": -1.5}, "value": 0}}},
    "detail": {"field": "s"}}},
  {"data": {"name": "r"}, "transform": [{"filter": "datum.p==2"}],
   "mark": {"type": "rule", "color": "#ff0000", "strokeWidth": 3, "yOffset": -1},
   "encoding": {
    "x2": {"field": "t2"},
    "y": {"datum": 0, "type": "quantitative", "scale": {"domain": [0,10], "nice": false},
      "axis": {"orient": "right", "values": [0,5,10], "tickSize": -5, "labelPadding": 9, "labelOffset": {"condition": {"test": "datum.value==0", "value": -2}, "value": 0}}}}}
 ],
 "resolve": {"axis": {"y": "independent"}}},
{"width": 690, "height": 78,
 "encoding": {"x": {"field": "t", "type": "quantitative", "scale": {"domain": [0,48], "nice": false, "zero": false},
   "axis": {"orient": "bottom", "values": [0,2,4,6,8,10,12,14,16,18,20,22,24,26,28,30,32,34,36,38,40,42,44,46,48], "tickSize": -4, "labelPadding": 8, "labelFlush": false, "labelOverlap": false,
     "labelExpr": "datum.value==0?'15日0時':datum.value==24?'16日0時':datum.value==48?'16日24時':datum.value%6==0?(datum.value%24)+'時':''"}}},
 "layer": [
  {"data": {"name": "w"}, "transform": [{"filter": "datum.p==3"}],
   "mark": {"type": "line", "color": "#000", "strokeWidth": 1},
   "encoding": {
    "y": {"field": "v", "type": "quantitative", "scale": {"domain": [0,10], "nice": false},
      "axis": {"orient": "left", "values": [0,5,10], "tickSize": -5, "labelPadding": 32, "labelAlign": "left", "labelBaseline": "middle", "labelOffset": {"condition": {"test": "datum.value==0", "value": -1.5}, "value": 0}}},
    "detail": {"field": "s"}}},
  {"data": {"name": "r"}, "transform": [{"filter": "datum.p==3"}],
   "mark": {"type": "rule", "color": "#ff0000", "strokeWidth": 3, "yOffset": -1},
   "encoding": {
    "x2": {"field": "t2"},
    "y": {"datum": 0, "type": "quantitative", "scale": {"domain": [0,10], "nice": false},
      "axis": {"orient": "right", "values": [0,5,10], "tickSize": -5, "labelPadding": 9, "labelOffset": {"condition": {"test": "datum.value==0", "value": -2}, "value": 0}}}}}
 ],
 "resolve": {"axis": {"y": "independent"}}},
{"width": 690, "height": 78,
 "encoding": {"x": {"field": "t", "type": "quantitative", "scale": {"domain": [0,48], "nice": false, "zero": false},
   "axis": {"orient": "bottom", "values": [0,2,4,6,8,10,12,14,16,18,20,22,24,26,28,30,32,34,36,38,40,42,44,46,48], "tickSize": -4, "labelPadding": 8, "labelFlush": false, "labelOverlap": false,
     "labelExpr": "datum.value==0?'17日0時':datum.value==24?'18日0時':datum.value==48?'18日24時':datum.value%6==0?(datum.value%24)+'時':''"}}},
 "layer": [
  {"data": {"name": "w"}, "transform": [{"filter": "datum.p==4"}],
   "mark": {"type": "line", "color": "#000", "strokeWidth": 1},
   "encoding": {
    "y": {"field": "v", "type": "quantitative", "scale": {"domain": [0,10], "nice": false},
      "axis": {"orient": "left", "values": [0,5,10], "tickSize": -5, "labelPadding": 32, "labelAlign": "left", "labelBaseline": "middle", "labelOffset": {"condition": {"test": "datum.value==0", "value": -1.5}, "value": 0}}},
    "detail": {"field": "s"}}},
  {"data": {"name": "r"}, "transform": [{"filter": "datum.p==4"}],
   "mark": {"type": "rule", "color": "#ff0000", "strokeWidth": 3, "yOffset": -1},
   "encoding": {
    "x2": {"field": "t2"},
    "y": {"datum": 0, "type": "quantitative", "scale": {"domain": [0,10], "nice": false},
      "axis": {"orient": "right", "values": [0,5,10], "tickSize": -5, "labelPadding": 9, "labelOffset": {"condition": {"test": "datum.value==0", "value": -2}, "value": 0}}}}}
 ],
 "resolve": {"axis": {"y": "independent"}}},
{"width": 690, "height": 78,
 "encoding": {"x": {"field": "t", "type": "quantitative", "scale": {"domain": [0,48], "nice": false, "zero": false},
   "axis": {"orient": "bottom", "values": [0,2,4,6,8,10,12,14,16,18,20,22,24,26,28,30,32,34,36,38,40,42,44,46,48], "tickSize": -4, "labelPadding": 8, "labelFlush": false, "labelOverlap": false,
     "labelExpr": "datum.value==0?'19日0時':datum.value==24?'20日0時':datum.value==48?'20日24時':datum.value%6==0?(datum.value%24)+'時':''"}}},
 "layer": [
  {"data": {"name": "w"}, "transform": [{"filter": "datum.p==5"}],
   "mark": {"type": "line", "color": "#000", "strokeWidth": 1},
   "encoding": {
    "y": {"field": "v", "type": "quantitative", "scale": {"domain": [0,10], "nice": false},
      "axis": {"orient": "left", "values": [0,5,10], "tickSize": -5, "labelPadding": 32, "labelAlign": "left", "labelBaseline": "middle", "labelOffset": {"condition": {"test": "datum.value==0", "value": -1.5}, "value": 0}}},
    "detail": {"field": "s"}}},
  {"data": {"name": "r"}, "transform": [{"filter": "datum.p==5"}],
   "mark": {"type": "rule", "color": "#ff0000", "strokeWidth": 3, "yOffset": -1},
   "encoding": {
    "x2": {"field": "t2"},
    "y": {"datum": 0, "type": "quantitative", "scale": {"domain": [0,10], "nice": false},
      "axis": {"orient": "right", "values": [0,5,10], "tickSize": -5, "labelPadding": 9, "labelOffset": {"condition": {"test": "datum.value==0", "value": -2}, "value": 0}}}}}
 ],
 "resolve": {"axis": {"y": "independent"}}}
]
}
